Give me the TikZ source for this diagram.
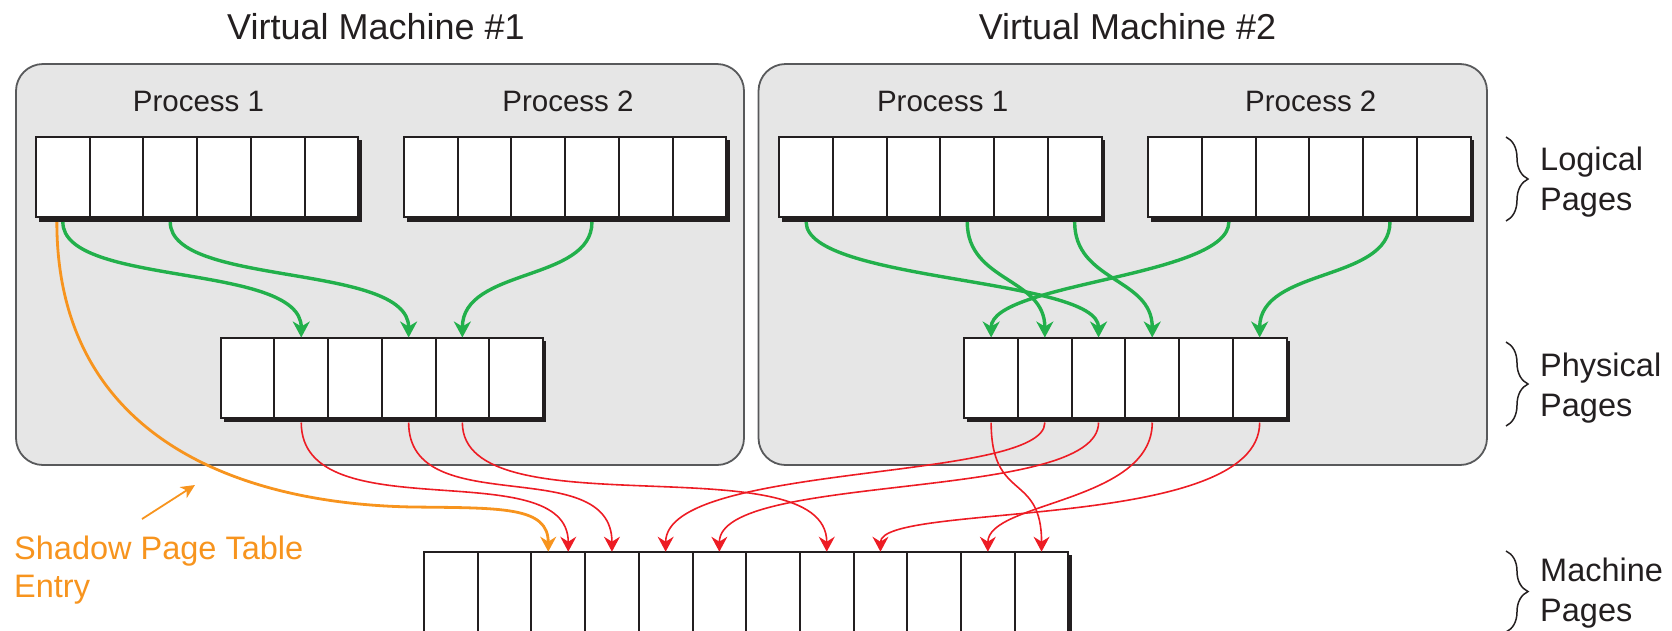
\documentclass[tikz,border=0pt]{standalone}
\usepackage{fontspec}
\setmainfont{Liberation Sans}
\usetikzlibrary{arrows.meta,decorations.pathreplacing}
\definecolor{vgreen}{HTML}{22B04B}
\definecolor{vred}{HTML}{ED1C24}
\definecolor{vorange}{HTML}{F7941E}
\definecolor{vmfill}{HTML}{E6E6E6}
\definecolor{vmborder}{HTML}{58595B}
\definecolor{ink}{HTML}{231F20}
\def\cw{53.7}
\def\ch{80}
% name, left x, top y, number of cells
\newcommand{\pgrow}[4]{%
  \fill[ink] (#2+3,#3+3) rectangle (#2+#4*\cw+3.5,#3+\ch+4.5);
  \foreach \i in {1,...,#4}{%
    \node[cell] (#1-\i) at (#2+\i*\cw-0.5*\cw,#3+0.5*\ch) {};
  }%
}
\begin{document}
\begin{tikzpicture}[x=1pt,y=-1pt,
  cell/.style={draw=ink,fill=white,line width=2pt,minimum width=\cw pt,minimum height=\ch pt,inner sep=0pt,outer sep=0pt},
  vmbox/.style={draw=vmborder,fill=vmfill,line width=1.8pt,rounded corners=27pt,inner sep=0pt},
  title/.style={text=ink,font=\fontsize{36}{43}\selectfont,inner sep=0pt,anchor=base},
  proc/.style={text=ink,font=\fontsize{29.5}{35}\selectfont,inner sep=0pt,anchor=base},
  side/.style={text=ink,font=\fontsize{32.5}{40}\selectfont,inner sep=0pt,align=left,anchor=base west},
  garrow/.style={draw=vgreen,line width=3.4pt,-{Stealth[length=16pt,width=17pt,inset=5pt]}},
  rarrow/.style={draw=vred,line width=1.6pt,-{Stealth[length=15pt,width=16pt,inset=5pt]}},
  oarrow/.style={draw=vorange,line width=2.8pt,-{Stealth[length=15pt,width=16pt,inset=5pt]}},
  bracest/.style={draw=ink,line width=1.5pt,decorate,decoration={brace,amplitude=22pt}}
]
\useasboundingbox (0,0) rectangle (1672,630);

% virtual machine boxes
\node[vmbox,minimum width=728pt,minimum height=401pt] (vm1) at (380,264.5) {};
\node[vmbox,minimum width=728.5pt,minimum height=401pt] (vm2) at (1122.75,264.5) {};

% titles
\node[title] (t1) at (376,39) {Virtual Machine \#1};
\node[title] (t2) at (1127.5,39) {Virtual Machine \#2};

% process labels
\node[proc] (pa) at (198.5,111) {Process 1};
\node[proc] (pb) at (568,111) {Process 2};
\node[proc] (pc) at (942.6,111) {Process 1};
\node[proc] (pd) at (1310.8,111) {Process 2};

% page rows
\pgrow{a}{36}{137}{6}
\pgrow{b}{404}{137}{6}
\pgrow{c}{779.3}{137}{6}
\pgrow{d}{1148.3}{137}{6}
\pgrow{p}{220.7}{337.5}{6}
\pgrow{q}{964.3}{337.5}{6}
\pgrow{m}{424}{551.7}{12}

% green: logical -> physical (VM1)
\draw[garrow] ([yshift=-5pt]a-1.south) .. controls +(0,65) and +(0,-75) .. (p-2.north);
\draw[garrow] ([yshift=-5pt]a-3.south) .. controls +(0,65) and +(0,-75) .. (p-4.north);
\draw[garrow] ([yshift=-5pt]b-4.south) .. controls +(0,60) and +(0,-70) .. (p-5.north);
% green: logical -> physical (VM2)
\draw[garrow] ([yshift=-5pt]c-1.south) .. controls +(0,60) and +(0,-60) .. (q-3.north);
\draw[garrow] ([yshift=-5pt]c-4.south) .. controls +(0,60) and +(0,-60) .. (q-2.north);
\draw[garrow] ([yshift=-5pt]c-6.south) .. controls +(0,60) and +(0,-60) .. (q-4.north);
\draw[garrow] ([yshift=-5pt]d-2.south) .. controls +(0,55) and +(0,-55) .. (q-1.north);
\draw[garrow] ([yshift=-5pt]d-5.south) .. controls +(0,60) and +(0,-70) .. (q-6.north);

% red: physical -> machine
\draw[rarrow] ([yshift=-5pt]p-2.south) .. controls +(0,110) and +(0,-100) .. ([xshift=10pt]m-3.north);
\draw[rarrow] ([yshift=-5pt]p-4.south) .. controls +(0,100) and +(0,-100) .. (m-4.north);
\draw[rarrow] ([yshift=-5pt]p-5.south) .. controls +(0,110) and +(0,-110) .. (m-8.north);
\draw[rarrow] ([yshift=-5pt]q-1.south) .. controls +(0,80) and +(0,-80) .. (m-12.north);
\draw[rarrow] ([yshift=-5pt]q-2.south) .. controls +(0,60) and +(0,-90) .. (m-5.north);
\draw[rarrow] ([yshift=-5pt]q-3.south) .. controls +(0,80) and +(0,-80) .. (m-6.north);
\draw[rarrow] ([yshift=-5pt]q-4.south) .. controls +(0,80) and +(0,-50) .. (m-11.north);
\draw[rarrow] ([yshift=-5pt]q-6.south) .. controls +(0,110) and +(0,-50) .. (m-9.north);

% orange: shadow page table entry
\coordinate (ow) at (413,507);
\draw[oarrow] ([xshift=-6pt,yshift=-5pt]a-1.south) .. controls +(0,215) and +(-175,-3) .. (ow)
  .. controls +(90,1) and +(0,-45) .. ([xshift=-10pt]m-3.north);

% label (base anchor = baseline of the last line)
\node[side,text=vorange,font=\fontsize{32.5}{38.5}\selectfont] (shadow) at (14,597.5) {Shadow Page Table\\Entry};
\coordinate (stail) at (142,519);
\coordinate (shead) at (195,485);
\draw[draw=vorange,line width=1.8pt,-{Stealth[length=14pt,width=13pt,inset=4pt]}] (stail) -- (shead);

% braces and level labels
\draw[bracest] (1506,137) -- (1506,221);
\draw[bracest] (1506,342) -- (1506,426);
\draw[bracest] (1506,551) -- (1506,632);
\node[side] (ll) at (1540,210.5) {Logical\\Pages};
\node[side] (lp) at (1540,416) {Physical\\Pages};
\node[side] (lm) at (1540,621) {Machine\\Pages};
\end{tikzpicture}
\end{document}
